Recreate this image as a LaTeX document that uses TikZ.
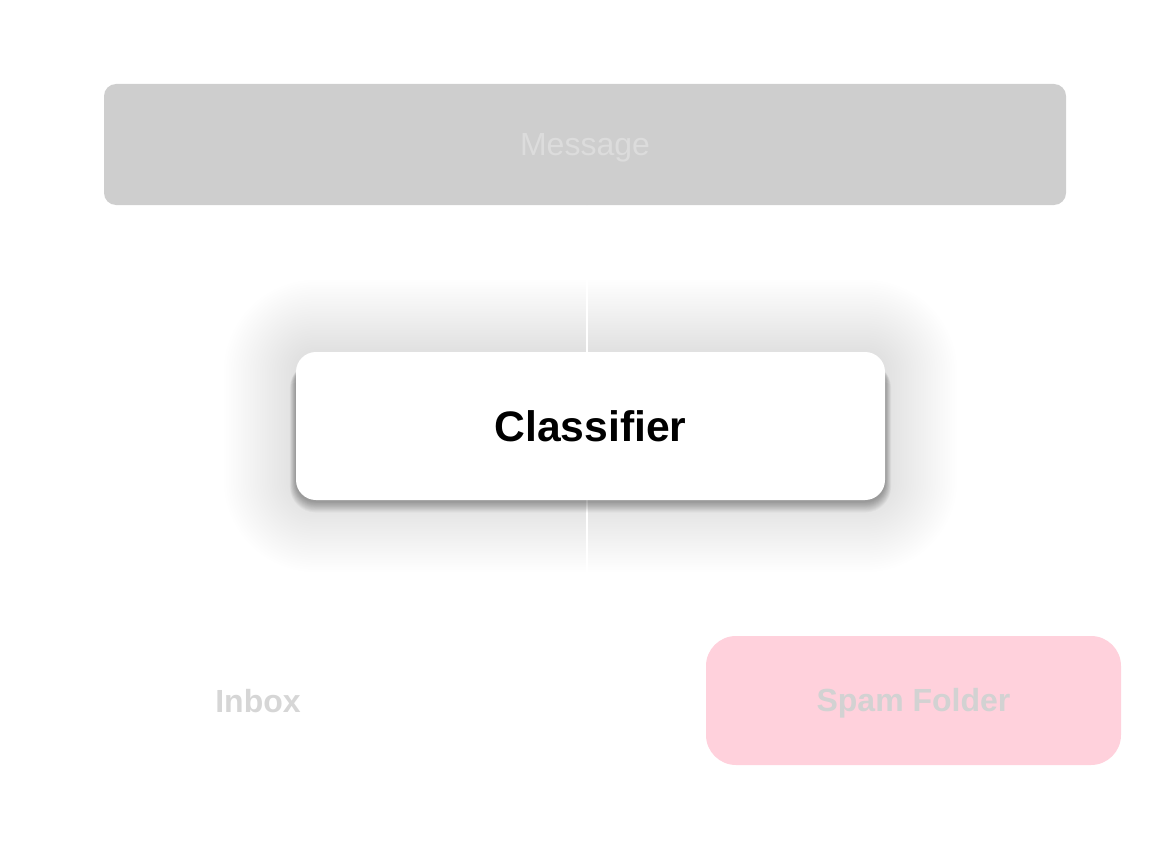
\documentclass[tikz,border=0pt]{standalone}
\usepackage{fontspec}
\setmainfont{Liberation Sans}
\usetikzlibrary{positioning,backgrounds}

\definecolor{msgfill}{HTML}{CECECE}
\definecolor{msgtext}{HTML}{DCDCDC}
\definecolor{fainttext}{HTML}{D6D6D6}
\definecolor{spamfill}{HTML}{FFD1DC}
\definecolor{spamtext}{HTML}{D2D2D2}

\begin{document}
\begin{tikzpicture}[x=0.75pt,y=-0.75pt]
    \tikzset{block/.style= {rectangle
    , inner sep=0pt
    , align=center
      }
    , msgbox/.style= {block, fill=msgfill, text=msgtext
    , minimum width=721.5pt, minimum height=90.75pt
    , text height=17pt, text depth=0pt
    , rounded corners=9pt, font=\fontsize{24}{28}\selectfont
      }
    , clfbox/.style= {block, fill=white, text=black
    , minimum width=441.75pt, minimum height=111pt
    , text height=23pt, text depth=0pt
    , rounded corners=15pt, font=\bfseries\fontsize{32}{38}\selectfont
      }
    , outbox/.style= {block, text=spamtext
    , minimum width=311.25pt, minimum height=96.75pt
    , text height=17pt, text depth=0pt
    , rounded corners=22.5pt, font=\bfseries\fontsize{24}{28}\selectfont
      }
    , wire/.style= {draw=white, line width=1.6pt}
    }

\useasboundingbox (0,0) rectangle (1172,849);

\node [msgbox] (msg) at (585,144.5) {Message};
\node [clfbox] (clf) at (590.5,426) {Classifier};
\node [outbox, text=fainttext, minimum width=0pt, minimum height=0pt] (inbox) at (258,701) {Inbox};
\node [outbox, fill=spamfill] (spam) at (913.5,700.5) {Spam Folder};

\coordinate (wtop) at ([xshift=1.5pt]msg.south);
\coordinate (clfout) at (wtop |- 0,572);

% soft glow and drop shadow behind the classifier
\begin{pgfonlayer}{background}
\foreach \i in {1,...,30}
  \fill[black, fill opacity=0.0036, rounded corners=15pt+\i*1.8pt]
    ([xshift=-\i*1.8pt, yshift=\i*1.8pt]clf.north west)
    rectangle ([xshift=\i*1.8pt, yshift=-\i*1.8pt]clf.south east);
\path[wire] (wtop) -- (wtop |- clf.north);
\path[wire] (wtop |- clf.south) -- (clfout);
\foreach \i in {0,...,11}
  \fill[black, fill opacity=0.03, rounded corners=15pt+\i*0.4pt]
    ([xshift=-\i*0.4pt, yshift=-8pt]clf.north west)
    rectangle ([xshift=\i*0.4pt, yshift=-1.5pt-\i*0.7pt]clf.south east);
\end{pgfonlayer}
\end{tikzpicture}
\end{document}
